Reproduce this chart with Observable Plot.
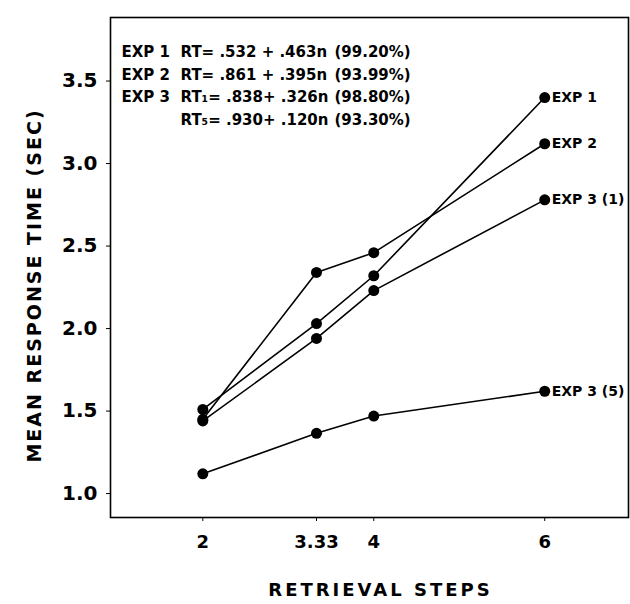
<!DOCTYPE html>
<html>
<head>
<meta charset="utf-8">
<script src="https://cdn.jsdelivr.net/npm/d3@7"></script>
<script src="https://cdn.jsdelivr.net/npm/@observablehq/plot@0.6"></script>
<style>
  html, body { margin: 0; padding: 0; background: #fff; }
  #chart svg { font-family: "DejaVu Sans", sans-serif; }
</style>
</head>
<body>
<div id="chart"></div>
<script>
// Retrieval steps (x) and mean response times (sec)
const steps = [2, 3.33, 4, 6];
const stepLabels = ["2", "3.33", "4", "6"];
const seriesNames = ["EXP 1", "EXP 2", "EXP 3 (1)", "EXP 3 (5)"];
const exp1 = [1.51, 2.03, 2.32, 3.40];
const exp2 = [1.45, 2.34, 2.46, 3.12];
const exp3_1 = [1.44, 1.94, 2.23, 2.78];
const exp3_5 = [1.12, 1.365, 1.47, 1.62];
const yTicks = [1.0, 1.5, 2.0, 2.5, 3.0, 3.5];

// Regression annotation
const eqExp = ["EXP 1", "EXP 2", "EXP 3", ""];
const eqFormula = ["RT= .532 + .463n", "RT= .861 + .395n", "RT\u2081= .838+ .326n", "RT\u2085= .930+ .120n"];
const eqFit = ["(99.20%)", "(93.99%)", "(98.80%)", "(93.30%)"];

const yLabel = "MEAN RESPONSE TIME (SEC)";
const xLabel = "RETRIEVAL STEPS";

const allSeries = [exp1, exp2, exp3_1, exp3_5];
const data = allSeries.flatMap((vals, i) =>
  vals.map((v, j) => ({series: seriesNames[i], x: steps[j], y: v, last: j === vals.length - 1}))
);
const lastPoints = data.filter(d => d.last);

const chart = Plot.plot({
  width: 630,
  height: 604,
  marginLeft: 110,
  marginRight: 2,
  marginTop: 17,
  marginBottom: 87,
  x: {domain: [0.92, 6.98]},
  y: {domain: [0.855, 3.885]},
  marks: [
    Plot.frame({stroke: "black", strokeWidth: 1.6}),
    Plot.axisY({ticks: yTicks, tickFormat: d3.format(".1f"), tickSize: 4, tickPadding: 9, fontSize: 20, label: null, fontWeight: "bold"}),
    Plot.axisX({ticks: steps, tickFormat: (d, i) => stepLabels[i], tickSize: 4, tickPadding: 14, fontSize: 18, label: null, fontWeight: "bold"}),
    Plot.line(data, {x: "x", y: "y", z: "series", stroke: "black", strokeWidth: 1.6}),
    Plot.dot(data, {x: "x", y: "y", r: 5.5, fill: "black"}),
    Plot.text(lastPoints, {x: "x", y: "y", text: "series", textAnchor: "start", dx: 7, fontSize: 14, fontWeight: "bold"}),
    Plot.text([eqExp.join("\n")], {frameAnchor: "top-left", dx: 11, dy: 24, lineAnchor: "top", lineHeight: 1.5, fontSize: 15, fontWeight: "bold", textAnchor: "start"}),
    Plot.text([eqFormula.join("\n")], {frameAnchor: "top-left", dx: 70, dy: 24, lineAnchor: "top", lineHeight: 1.5, fontSize: 15, fontWeight: "bold", textAnchor: "start"}),
    Plot.text([eqFit.join("\n")], {frameAnchor: "top-left", dx: 224, dy: 24, lineAnchor: "top", lineHeight: 1.5, fontSize: 15, fontWeight: "bold", textAnchor: "start"}),
    Plot.text([yLabel], {frameAnchor: "left", textAnchor: "middle", rotate: -90, dx: -76, dy: 18, fontSize: 19, fontWeight: "bold", className: "spaced"}),
    Plot.text([xLabel], {frameAnchor: "bottom", textAnchor: "middle", dx: 11, dy: 78, fontSize: 18, fontWeight: "bold", className: "spaced2"})
  ]
});
document.getElementById("chart").appendChild(chart);
d3.select(chart).selectAll(".spaced text").style("letter-spacing", "2px");
d3.select(chart).selectAll(".spaced2 text").style("letter-spacing", "3px");
</script>
</body>
</html>
